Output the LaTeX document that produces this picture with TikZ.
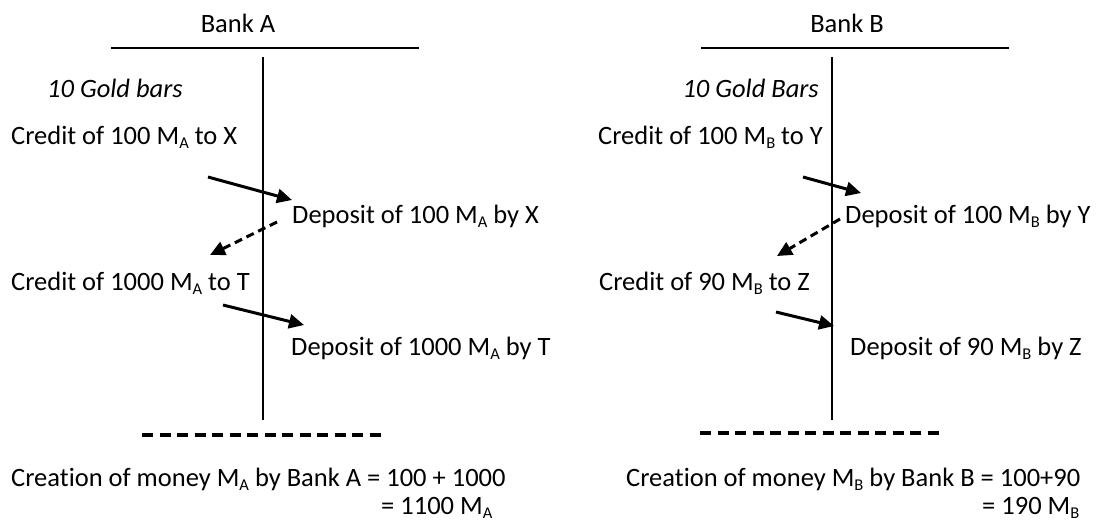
\documentclass[tikz,border=0pt]{standalone}
\usepackage{fontspec}
\setmainfont{Carlito}[Ligatures=NoCommon]
\usetikzlibrary{arrows.meta}
\newcommand{\lowidx}[1]{\raisebox{-4.5pt}{\fontsize{16.5}{18}\selectfont #1}}
\begin{document}
\begin{tikzpicture}[x=1pt,y=-1pt,
  txt/.style={inner sep=0pt, font=\fontsize{26.5}{30}\selectfont},
  itxt/.style={txt, font=\fontsize{26.5}{30}\selectfont\itshape},
  rule/.style={line width=1.8pt},
  flow/.style={line width=3pt, -{Triangle[length=15pt,width=14pt]}},
  dflow/.style={flow, dash pattern=on 8pt off 5pt},
  sep/.style={line width=3.6pt, dash pattern=on 11pt off 6.5pt}]
\useasboundingbox (0,0) rectangle (1102,523);
% Bank A
\node[txt, anchor=base] (ba) at (238,32) {Bank A};
\coordinate (tal) at (111,48); \coordinate (tar) at (419,48);
\draw[rule] (tal) -- (tar);
\coordinate (vat) at (263,57); \coordinate (vab) at (263,420);
\draw[rule] (vat) -- (vab);
\node[itxt, anchor=base west] (ga) at (47,97) {10 Gold bars};
\node[txt, anchor=base west] (ca1) at (11,144) {Credit of 100 M\lowidx{A} to X};
\node[txt, anchor=base west] (da1) at (292,223) {Deposit of 100 M\lowidx{A} by X};
\node[txt, anchor=base west] (ca2) at (11,290) {Credit of 1000 M\lowidx{A} to T};
\node[txt, anchor=base west] (da2) at (291,355) {Deposit of 1000 M\lowidx{A} by T};
\coordinate (a1s) at (208,177); \coordinate (a1e) at (292,200);
\draw[flow] (a1s) -- (a1e);
\coordinate (a2s) at (277,222); \coordinate (a2e) at (210,255);
\draw[dflow] (a2s) -- (a2e);
\coordinate (a3s) at (223,305); \coordinate (a3e) at (304,325);
\draw[flow] (a3s) -- (a3e);
\coordinate (sal) at (142,435); \coordinate (sar) at (387,435);
\draw[sep] (sal) -- (sar);
\node[txt, anchor=base west] (cra) at (11,486) {Creation of money M\lowidx{A} by Bank A = 100 + 1000};
\node[txt, anchor=base west] (cra2) at (381,514) {= 1100 M\lowidx{A}};
% Bank B
\node[txt, anchor=base] (bb) at (847,32) {Bank B};
\coordinate (tbl) at (701,48); \coordinate (tbr) at (1009,48);
\draw[rule] (tbl) -- (tbr);
\coordinate (vbt) at (832,57); \coordinate (vbb) at (832,420);
\draw[rule] (vbt) -- (vbb);
\node[itxt, anchor=base east] (gb) at (819,97) {10 Gold Bars};
\node[txt, anchor=base west] (cb1) at (598,144) {Credit of 100 M\lowidx{B} to Y};
\node[txt, anchor=base west] (db1) at (845,223) {Deposit of 100 M\lowidx{B} by Y};
\node[txt, anchor=base west] (cb2) at (599,290) {Credit of 90 M\lowidx{B} to Z};
\node[txt, anchor=base west] (db2) at (850,355) {Deposit of 90 M\lowidx{B} by Z};
\coordinate (b1s) at (803,177); \coordinate (b1e) at (861,193);
\draw[flow] (b1s) -- (b1e);
\coordinate (b2s) at (840,219); \coordinate (b2e) at (777,256);
\draw[dflow] (b2s) -- (b2e);
\coordinate (b3s) at (776,312); \coordinate (b3e) at (834,326);
\draw[flow] (b3s) -- (b3e);
\coordinate (sbl) at (700,433); \coordinate (sbr) at (945,433);
\draw[sep] (sbl) -- (sbr);
\node[txt, anchor=base west] (crb) at (626,486) {Creation of money M\lowidx{B} by Bank B = 100+90};
\node[txt, anchor=base west] (crb2) at (982,514) {= 190 M\lowidx{B}};
\end{tikzpicture}
\end{document}
